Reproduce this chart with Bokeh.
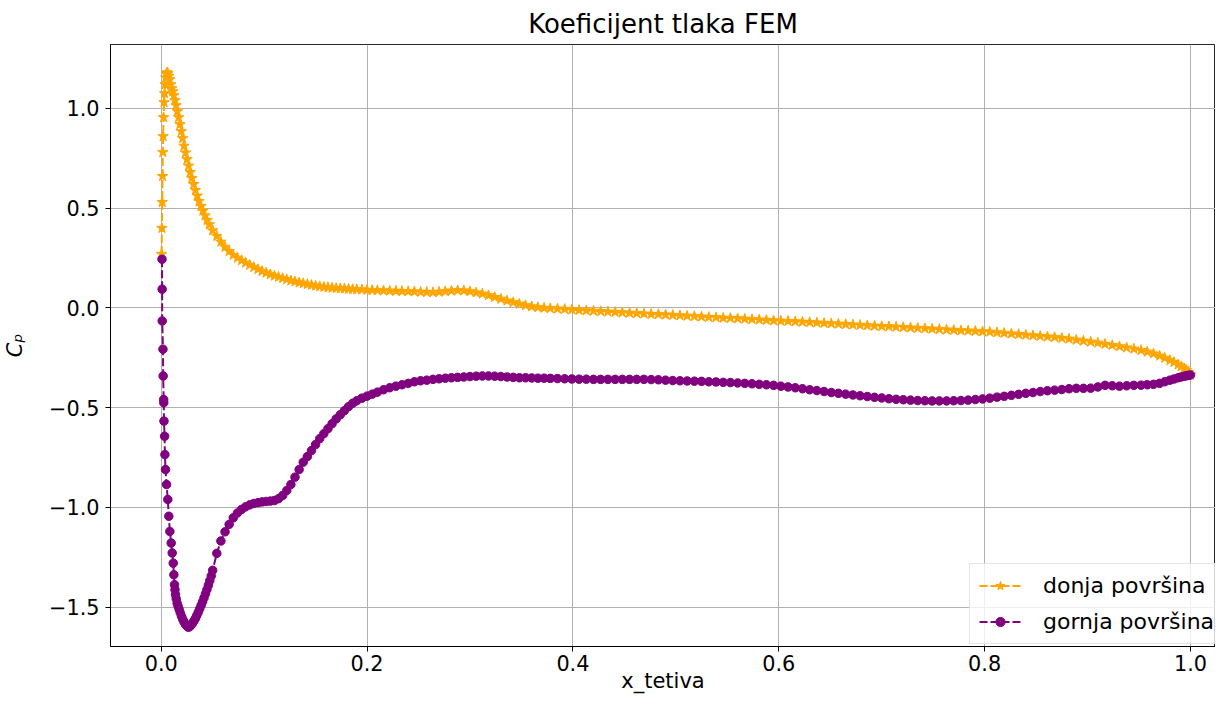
from bokeh.plotting import figure
from bokeh.models import Range1d, FixedTicker, Legend, LegendItem
from bokeh.embed import file_html
from bokeh.resources import INLINE

# ---------------- data ----------------
# leading-edge stations, lower surface (donja površina)
x_le_donja = [0.0004, 0.0007, 0.0010, 0.0013, 0.0016, 0.0019, 0.0023, 0.0028, 0.0033, 0.0038,
              0.0044, 0.0050, 0.0057, 0.0065, 0.0074, 0.0083, 0.0093, 0.0103, 0.0113, 0.0123,
              0.0134, 0.0145, 0.0157, 0.0169, 0.0182, 0.0195, 0.0208, 0.0222, 0.0236, 0.0251,
              0.0266, 0.0282, 0.0298, 0.0315, 0.0332, 0.0350, 0.0368, 0.0387, 0.0406, 0.0426,
              0.0446, 0.0467]
cp_le_donja = [0.27, 0.40, 0.53, 0.66, 0.78, 0.86, 0.955, 1.03, 1.075, 1.12,
               1.155, 1.172, 1.18, 1.175, 1.162, 1.145, 1.12, 1.10, 1.085, 1.065,
               1.04, 1.015, 0.985, 0.955, 0.92, 0.885, 0.85, 0.812, 0.778, 0.745,
               0.712, 0.68, 0.65, 0.62, 0.59, 0.562, 0.535, 0.51, 0.487, 0.463,
               0.44, 0.418]

# leading-edge stations, upper surface (gornja površina)
x_le_gornja = [0.0008, 0.0009, 0.0010, 0.0017, 0.0019, 0.0024, 0.0025, 0.0027, 0.0033, 0.0036,
               0.0042, 0.0052, 0.0064, 0.0074, 0.0084, 0.0097, 0.0107, 0.0117, 0.0123, 0.0129,
               0.0134, 0.0139, 0.0146, 0.0155, 0.0164, 0.0174, 0.0185, 0.0197, 0.0209, 0.0221,
               0.0234, 0.0248, 0.0262, 0.0276, 0.0290, 0.0304, 0.0318, 0.0332, 0.0346, 0.0360,
               0.0374, 0.0388, 0.0402, 0.0416, 0.0430, 0.0444, 0.0458, 0.0472, 0.0486]
cp_le_gornja = [0.244, 0.094, -0.065, -0.207, -0.341, -0.459, -0.475, -0.567, -0.643, -0.735,
                -0.810, -0.885, -0.960, -1.044, -1.120, -1.178, -1.228, -1.279, -1.337, -1.387,
                -1.412, -1.437, -1.458, -1.480, -1.495, -1.510, -1.528, -1.545, -1.560, -1.573,
                -1.585, -1.594, -1.600, -1.598, -1.590, -1.580, -1.569, -1.556, -1.541, -1.525,
                -1.508, -1.490, -1.472, -1.453, -1.433, -1.412, -1.390, -1.367, -1.343]

# shared chord stations from x = 0.05 to the trailing edge
x_tetiva = [0.050, 0.054, 0.058, 0.062, 0.066, 0.070, 0.074, 0.078, 0.082, 0.086,
            0.090, 0.094, 0.098, 0.102, 0.106, 0.110, 0.114, 0.118, 0.122, 0.126,
            0.130, 0.134, 0.138, 0.142, 0.146, 0.150, 0.154, 0.158, 0.162, 0.166,
            0.170, 0.174, 0.178, 0.182, 0.186, 0.190, 0.195, 0.200, 0.205, 0.210,
            0.216, 0.222, 0.228, 0.234, 0.240, 0.246, 0.252, 0.258, 0.264, 0.270,
            0.276, 0.282, 0.288, 0.294, 0.300, 0.306, 0.312, 0.318, 0.324, 0.330,
            0.336, 0.342, 0.348, 0.354, 0.360, 0.366, 0.372, 0.378, 0.385, 0.392,
            0.399, 0.406, 0.413, 0.420, 0.427, 0.434, 0.441, 0.448, 0.455, 0.462,
            0.469, 0.476, 0.483, 0.490, 0.497, 0.504, 0.511, 0.518, 0.525, 0.532,
            0.539, 0.546, 0.553, 0.560, 0.567, 0.574, 0.581, 0.588, 0.595, 0.602,
            0.609, 0.616, 0.623, 0.630, 0.637, 0.644, 0.651, 0.658, 0.665, 0.672,
            0.679, 0.686, 0.693, 0.700, 0.707, 0.714, 0.721, 0.728, 0.735, 0.742,
            0.749, 0.756, 0.763, 0.770, 0.777, 0.784, 0.791, 0.798, 0.805, 0.812,
            0.819, 0.826, 0.833, 0.840, 0.847, 0.854, 0.861, 0.868, 0.875, 0.882,
            0.889, 0.896, 0.903, 0.910, 0.917, 0.924, 0.931, 0.938, 0.945, 0.952,
            0.958, 0.964, 0.970, 0.975, 0.980, 0.984, 0.988, 0.991, 0.994, 0.996,
            0.998, 1.000]

cp_donja = [0.388, 0.360, 0.331, 0.305, 0.284, 0.265, 0.251, 0.238, 0.226, 0.215,
            0.204, 0.194, 0.184, 0.176, 0.168, 0.161, 0.155, 0.149, 0.143, 0.137,
            0.132, 0.127, 0.123, 0.119, 0.115, 0.111, 0.108, 0.105, 0.103, 0.101,
            0.099, 0.098, 0.097, 0.095, 0.094, 0.093, 0.092, 0.090, 0.089, 0.088,
            0.087, 0.086, 0.085, 0.084, 0.083, 0.082, 0.080, 0.079, 0.078, 0.080,
            0.083, 0.086, 0.088, 0.087, 0.083, 0.077, 0.071, 0.063, 0.054, 0.045,
            0.036, 0.028, 0.020, 0.013, 0.007, 0.003, 0.000, -0.002, -0.004, -0.006,
            -0.009, -0.011, -0.013, -0.015, -0.017, -0.019, -0.021, -0.023, -0.025, -0.027,
            -0.029, -0.031, -0.032, -0.034, -0.036, -0.038, -0.040, -0.042, -0.044, -0.046,
            -0.048, -0.050, -0.051, -0.053, -0.055, -0.057, -0.059, -0.061, -0.063, -0.065,
            -0.066, -0.068, -0.070, -0.072, -0.074, -0.076, -0.078, -0.080, -0.082, -0.084,
            -0.086, -0.088, -0.090, -0.092, -0.093, -0.095, -0.097, -0.099, -0.101, -0.103,
            -0.105, -0.107, -0.109, -0.111, -0.113, -0.114, -0.116, -0.118, -0.120, -0.123,
            -0.126, -0.129, -0.132, -0.135, -0.138, -0.141, -0.144, -0.147, -0.151, -0.155,
            -0.160, -0.165, -0.170, -0.175, -0.181, -0.187, -0.193, -0.199, -0.205, -0.212,
            -0.220, -0.229, -0.240, -0.251, -0.262, -0.272, -0.284, -0.294, -0.304, -0.312,
            -0.322, -0.335]

cp_gornja = [-1.315, -1.230, -1.168, -1.122, -1.085, -1.052, -1.028, -1.010, -0.997, -0.987,
             -0.980, -0.976, -0.972, -0.970, -0.968, -0.965, -0.956, -0.940, -0.915, -0.885,
             -0.848, -0.810, -0.773, -0.745, -0.715, -0.685, -0.655, -0.630, -0.605, -0.580,
             -0.556, -0.535, -0.515, -0.495, -0.478, -0.465, -0.452, -0.442, -0.432, -0.422,
             -0.410, -0.400, -0.392, -0.385, -0.378, -0.370, -0.365, -0.362, -0.358, -0.355,
             -0.352, -0.350, -0.348, -0.346, -0.344, -0.342, -0.341, -0.341, -0.342, -0.344,
             -0.346, -0.348, -0.350, -0.350, -0.351, -0.352, -0.352, -0.353, -0.354, -0.355,
             -0.356, -0.357, -0.357, -0.358, -0.358, -0.358, -0.358, -0.358, -0.358, -0.358,
             -0.358, -0.359, -0.360, -0.362, -0.364, -0.365, -0.366, -0.367, -0.368, -0.370,
             -0.371, -0.373, -0.374, -0.376, -0.378, -0.380, -0.383, -0.385, -0.388, -0.392,
             -0.396, -0.400, -0.405, -0.410, -0.414, -0.419, -0.424, -0.428, -0.432, -0.436,
             -0.440, -0.444, -0.448, -0.451, -0.455, -0.458, -0.460, -0.462, -0.464, -0.465,
             -0.466, -0.466, -0.466, -0.465, -0.464, -0.462, -0.459, -0.456, -0.452, -0.447,
             -0.443, -0.438, -0.433, -0.428, -0.424, -0.419, -0.415, -0.412, -0.409, -0.405,
             -0.403, -0.403, -0.402, -0.396, -0.388, -0.390, -0.392, -0.390, -0.388, -0.387,
             -0.385, -0.383, -0.378, -0.370, -0.362, -0.356, -0.350, -0.346, -0.342, -0.340,
             -0.338, -0.336]

x_ticks = [0.0, 0.2, 0.4, 0.6, 0.8, 1.0]
x_tick_labels = ["0.0", "0.2", "0.4", "0.6", "0.8", "1.0"]
y_ticks = [-1.5, -1.0, -0.5, 0.0, 0.5, 1.0]
y_tick_labels = ["\u22121.5", "\u22121.0", "\u22120.5", "0.0", "0.5", "1.0"]

title_text = "Koeficijent tlaka FEM"
x_label = "x_tetiva"
y_label = "C\u209a"
label_donja = "donja površina"
label_gornja = "gornja površina"

assert len(x_tetiva) == len(cp_donja) == len(cp_gornja)
assert len(x_le_donja) == len(cp_le_donja)
assert len(x_le_gornja) == len(cp_le_gornja)

x_donja = x_le_donja + x_tetiva
y_donja = cp_le_donja + cp_donja
x_gornja = x_le_gornja + x_tetiva
y_gornja = cp_le_gornja + cp_gornja

# ---------------- figure ----------------
FONT = "DejaVu Sans"
p = figure(width=1215, height=697,
           x_range=Range1d(-0.04926, 1.0243), y_range=Range1d(-1.6968, 1.3203),
           output_backend="svg", toolbar_location=None,
           min_border_left=102, min_border_right=0, min_border_top=36, min_border_bottom=51)

p.title.text = title_text
p.title.align = "center"
p.title.text_font = FONT
p.title.text_font_size = "26px"
p.title.text_font_style = "normal"
p.title.text_color = "black"
p.title.standoff = 12

p.outline_line_color = "black"
p.outline_line_width = 1
p.outline_line_alpha = 0.85

for ax in (p.xaxis, p.yaxis):
    ax.axis_line_color = "black"
    ax.axis_line_width = 1
    ax.major_tick_line_color = "black"
    ax.major_tick_out = 5
    ax.major_tick_in = 0
    ax.minor_tick_line_color = None
    ax.major_label_text_font = FONT
    ax.major_label_text_font_size = "20.8px"
    ax.major_label_text_color = "black"
    ax.axis_label_text_font = FONT
    ax.axis_label_text_font_size = "21px"
    ax.axis_label_text_font_style = "normal"
    ax.axis_label_text_color = "black"

p.xaxis.ticker = FixedTicker(ticks=x_ticks)
p.xaxis.major_label_overrides = dict(zip(x_ticks, x_tick_labels))
p.yaxis.ticker = FixedTicker(ticks=y_ticks)
p.yaxis.major_label_overrides = dict(zip(y_ticks, y_tick_labels))
p.xaxis.axis_label = x_label
p.yaxis.axis_label = y_label
p.yaxis.axis_label_text_font_style = "italic"
p.xaxis.major_label_standoff = 3
p.xaxis.axis_label_standoff = -5
p.yaxis.major_label_standoff = 6
p.yaxis.axis_label_standoff = 19

p.xgrid.grid_line_color = "#b0b0b0"
p.ygrid.grid_line_color = "#b0b0b0"
p.xgrid.grid_line_width = 1
p.ygrid.grid_line_width = 1

ORANGE = "#FFA500"
PURPLE = "#800080"

l1 = p.line(x_donja, y_donja, line_color=ORANGE, line_width=2, line_dash="8 3")
m1 = p.scatter(x_donja, y_donja, marker="star", size=11, fill_color=ORANGE, line_color=ORANGE)
l2 = p.line(x_gornja, y_gornja, line_color=PURPLE, line_width=2, line_dash="8 3")
m2 = p.scatter(x_gornja, y_gornja, marker="circle", size=8.5, fill_color=PURPLE, line_color=PURPLE)

legend = Legend(items=[LegendItem(label=label_donja, renderers=[l1, m1]),
                       LegendItem(label=label_gornja, renderers=[l2, m2])],
                location=(859, 2))
legend.label_text_font = FONT
legend.label_text_font_size = "22px"
legend.label_text_color = "black"
legend.glyph_width = 42
legend.glyph_height = 23
legend.label_height = 23
legend.label_standoff = 22
legend.spacing = 11
legend.padding = 9
legend.border_line_color = "#cccccc"
legend.border_line_width = 1
legend.background_fill_alpha = 0.8
p.add_layout(legend)

open("out.html", "w").write(file_html(p, INLINE))
